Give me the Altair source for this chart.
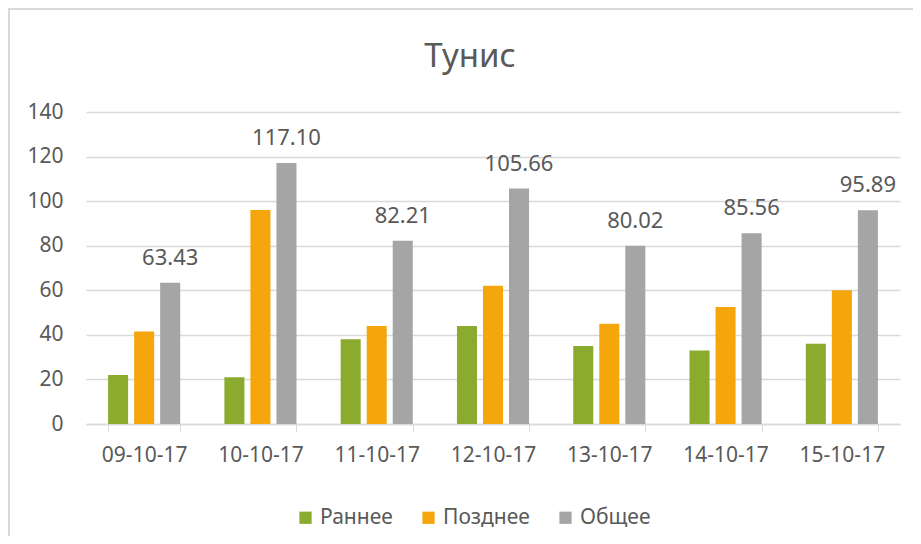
import altair as alt
import pandas as pd

dates = ["09-10-17", "10-10-17", "11-10-17", "12-10-17", "13-10-17", "14-10-17", "15-10-17"]
series = ["Раннее", "Позднее", "Общее"]
early = [22, 21, 38, 44, 35, 33, 36]
late = [41.5, 96, 44, 62, 45, 52.5, 60]
total = [63.43, 117.10, 82.21, 105.66, 80.02, 85.56, 95.89]
colors = ["#8AAB2E", "#F5A60C", "#A5A5A5"]
y_ticks = [0, 20, 40, 60, 80, 100, 120, 140]

rows = []
for i, d in enumerate(dates):
    for s, vals in zip(series, [early, late, total]):
        rows.append({"date": d, "series": s, "value": vals[i]})
df = pd.DataFrame(rows)

FONT = "Noto Sans"
TXT = "#595959"
GRID = "#D9D9D9"

x_enc = alt.X(
    "date:N", sort=dates, title=None,
    scale=alt.Scale(paddingInner=0.38, paddingOuter=0.19),
    axis=alt.Axis(labelAngle=0, tickBand="extent", ticks=True, tickSize=8,
                  tickColor=GRID, domainColor=GRID, domainWidth=1.5,
                  labelPadding=12, labelFontSize=21, labelColor=TXT, labelFont=FONT,
                  grid=False),
)
xoff = alt.XOffset("series:N", sort=series, scale=alt.Scale(paddingInner=0.23))
y_enc = alt.Y(
    "value:Q", title=None,
    scale=alt.Scale(domain=[0, 140]),
    axis=alt.Axis(values=y_ticks, domain=False, ticks=False, grid=True, gridColor=GRID,
                  gridWidth=1.5, labelPadding=23, labelFontSize=21, labelColor=TXT,
                  labelFont=FONT),
)

bars = alt.Chart(df).mark_bar().encode(
    x=x_enc, xOffset=xoff, y=y_enc,
    color=alt.Color("series:N", sort=series, title=None,
                    scale=alt.Scale(domain=series, range=colors),
                    legend=alt.Legend(orient="none", legendX=209, legendY=395,
                                      direction="horizontal", symbolType="square",
                                      symbolSize=150, symbolStrokeWidth=0,
                                      labelFontSize=21, labelColor=TXT, labelFont=FONT,
                                      columnPadding=25, labelOffset=4)),
)

labels = alt.Chart(df).transform_filter(alt.datum.series == "Общее").mark_text(
    baseline="alphabetic", dy=-18, fontSize=22, color=TXT, font=FONT
).encode(
    x=alt.X("date:N", sort=dates), xOffset=alt.XOffset("series:N", sort=series),
    y="value:Q", text=alt.Text("value:Q", format=".2f"),
)

frame = alt.Chart(alt.Data(values=[{"a": 1}]))
left_border = frame.mark_rule(color=GRID, strokeWidth=2).encode(
    x=alt.value(-77), y=alt.value(-103), y2=alt.value(430))
top_border = frame.mark_rule(color=GRID, strokeWidth=2).encode(
    x=alt.value(-78), x2=alt.value(830), y=alt.value(-103))

chart = alt.layer(bars, labels, left_border, top_border).properties(
    width=814, height=312,
    title=alt.TitleParams("Тунис", fontSize=33, color=TXT, font=FONT,
                          fontWeight="normal", anchor="middle", dx=-23, offset=-66),
    autosize=alt.AutoSizeParams(type="none"),
    padding={"left": 78, "top": 104, "right": 13, "bottom": 112},
).configure_view(stroke=None)

chart.save("out.html", embed_options={"renderer": "svg", "actions": False})
